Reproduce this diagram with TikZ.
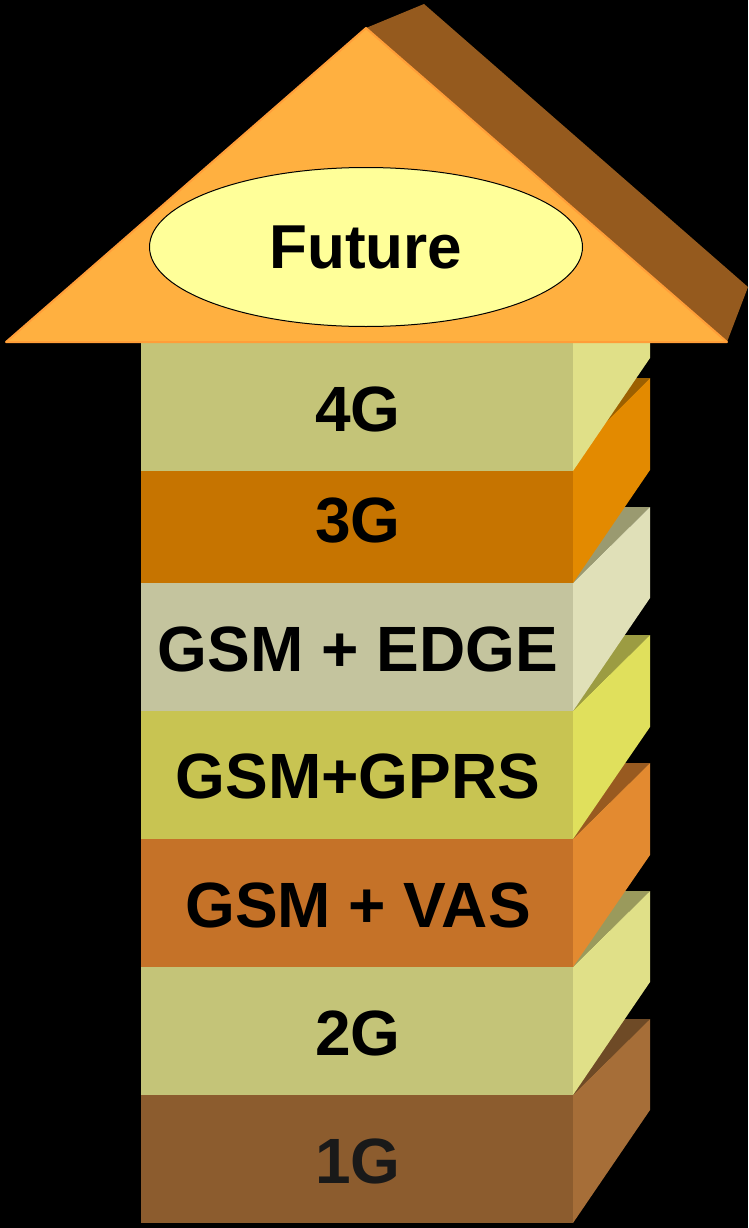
\documentclass[tikz,border=0pt]{standalone}
\usepackage{fontspec}
\setmainfont{Liberation Sans}
\usetikzlibrary{shapes.geometric}

\definecolor{oneF}{HTML}{8C5C2E}
\definecolor{oneS}{HTML}{A66E38}
\definecolor{oneT}{HTML}{6E4A26}
\definecolor{twoF}{HTML}{C4C478}
\definecolor{twoS}{HTML}{E0E088}
\definecolor{twoT}{HTML}{9A9A5C}
\definecolor{vasF}{HTML}{C57228}
\definecolor{vasS}{HTML}{E38A30}
\definecolor{vasT}{HTML}{985A20}
\definecolor{gprsF}{HTML}{C8C452}
\definecolor{gprsS}{HTML}{E0E05C}
\definecolor{gprsT}{HTML}{9C9C42}
\definecolor{edgeF}{HTML}{C4C49E}
\definecolor{edgeS}{HTML}{E0E0B8}
\definecolor{edgeT}{HTML}{9A9A70}
\definecolor{threeF}{HTML}{C67400}
\definecolor{threeS}{HTML}{E38A00}
\definecolor{threeT}{HTML}{9C6000}
\definecolor{fourF}{HTML}{C4C478}
\definecolor{fourS}{HTML}{E0E088}
\definecolor{roofF}{HTML}{FFB040}
\definecolor{roofL}{HTML}{FF9E38}
\definecolor{roofS}{HTML}{955A1E}
\definecolor{futF}{HTML}{FFFF99}

\begin{document}
\begin{tikzpicture}[x=1pt, y=-1pt,
  lbl/.style={font=\fontsize{64}{64}\selectfont\bfseries, anchor=base, inner sep=0pt},
  bound/.style={line width=1pt}]
 \fill[black] (0,0) rectangle (748,1228);

 \fill[oneT] (141,1095) -- (573,1095) -- (650,1019) -- (218,1019) -- cycle;
 \fill[oneS] (573,1095) -- (650,1019) -- (650,1110) -- (573,1223) -- cycle;
 \fill[oneF] (141,1095) rectangle (573,1223);

 \fill[twoT] (141,967) -- (573,967) -- (650,891) -- (218,891) -- cycle;
 \fill[twoS] (573,967) -- (650,891) -- (650,982) -- (573,1095) -- cycle;
 \fill[twoF] (141,967) rectangle (573,1095);

 \fill[vasT] (141,839) -- (573,839) -- (650,763) -- (218,763) -- cycle;
 \fill[vasS] (573,839) -- (650,763) -- (650,855) -- (573,967) -- cycle;
 \fill[vasF] (141,839) rectangle (573,967);

 \fill[gprsT] (141,711) -- (573,711) -- (650,635) -- (218,635) -- cycle;
 \fill[gprsS] (573,711) -- (650,635) -- (650,727) -- (573,839) -- cycle;
 \fill[gprsF] (141,711) rectangle (573,839);

 \fill[edgeT] (141,583) -- (573,583) -- (650,507) -- (218,507) -- cycle;
 \fill[edgeS] (573,583) -- (650,507) -- (650,598) -- (573,711) -- cycle;
 \fill[edgeF] (141,583) rectangle (573,711);

 \fill[threeT] (141,455) -- (573,455) -- (650,378) -- (218,378) -- cycle;
 \fill[threeS] (573,455) -- (650,378) -- (650,470) -- (573,583) -- cycle;
 \fill[threeF] (141,455) rectangle (573,583);

 \fill[fourS] (573,342) -- (650,266) -- (650,358) -- (573,471) -- cycle;
 \fill[fourF] (141,342) rectangle (573,471);

 \node[lbl] (G4) at (358,431) {4G};
 \node[lbl] (G3) at (358,542) {3G};
 \node[lbl] (EDGE) at (358,671) {GSM + EDGE};
 \node[lbl] (GPRS) at (358,798) {GSM+GPRS};
 \node[lbl] (VAS) at (358,927) {GSM + VAS};
 \node[lbl] (G2) at (358,1055) {2G};
 \node[lbl, text=black!90] (G1) at (358,1183) {1G};

 \fill[roofS] (366,28) -- (424,4) -- (748,287) -- (727,342) -- cycle;
 \filldraw[fill=roofF, draw=roofL, line width=2pt, line join=round] (6,342) -- (366,28) -- (727,342) -- cycle;
 \node[ellipse, draw, bound, fill=futF, minimum width=433pt, minimum height=159pt, inner sep=0pt,
   font=\fontsize{62}{62}\selectfont\bfseries] (Fut) at (366,247) {Future};
\end{tikzpicture}
\end{document}
